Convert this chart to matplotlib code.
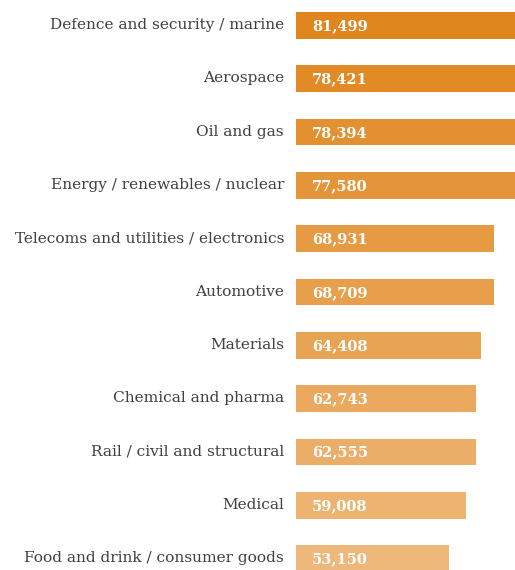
import numpy as np
import matplotlib
matplotlib.use("Agg")
import matplotlib.pyplot as plt
from matplotlib.colors import to_rgb
from matplotlib.transforms import ScaledTranslation

sectors = ["Defence and security / marine", "Aerospace", "Oil and gas",
           "Energy / renewables / nuclear", "Telecoms and utilities / electronics",
           "Automotive", "Materials", "Chemical and pharma",
           "Rail / civil and structural", "Medical", "Food and drink / consumer goods"]
salaries = [81499, 78421, 78394, 77580, 68931, 68709, 64408, 62743, 62555, 59008, 53150]

# colour fades from dark orange (top) to pale orange (bottom)
c0, c1 = np.array(to_rgb("#e0861e")), np.array(to_rgb("#eeb87a"))
colors = [c0 + (c1 - c0) * t for t in np.linspace(0, 1, len(sectors))]

fig = plt.figure(figsize=(5.15, 5.70), dpi=100)
ax = fig.add_axes([296 / 515, 0, 219 / 515, 1])
y = np.arange(len(sectors))
ax.barh(y, salaries, height=0.5, color=colors)
ax.set_xlim(0, 76170)
ax.set_ylim(10.215, -0.478)

ax.set_yticks(y, sectors, fontsize=11.1, color="#404040", family="DejaVu Serif")
ax.tick_params(axis="y", length=0, pad=8.6)
ax.tick_params(axis="x", bottom=False, labelbottom=False)
# nudge labels up a touch, as in the original
up = ScaledTranslation(0, 2 / 100, fig.dpi_scale_trans)
for lbl in ax.get_yticklabels():
    lbl.set_transform(lbl.get_transform() + up)
for s in ax.spines.values():
    s.set_visible(False)

for yi, v in zip(y, salaries):
    ax.annotate(f"{v:,}", xy=(0, yi), xytext=(11.5, -0.5), textcoords="offset points",
                ha="left", va="center", color="white", fontsize=10.5,
                fontweight="bold", family="DejaVu Serif")

fig.savefig("out.png", dpi=100)
